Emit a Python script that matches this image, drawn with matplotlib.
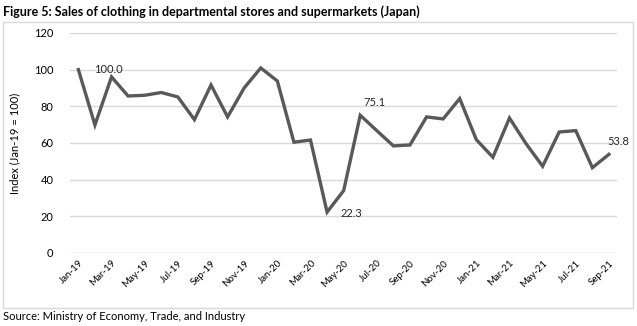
import matplotlib.pyplot as plt
from matplotlib.patches import Rectangle

plt.rcParams['font.family'] = ['Lato', 'DejaVu Sans']

months = ['Jan-19', 'Feb-19', 'Mar-19', 'Apr-19', 'May-19', 'Jun-19', 'Jul-19', 'Aug-19',
          'Sep-19', 'Oct-19', 'Nov-19', 'Dec-19', 'Jan-20', 'Feb-20', 'Mar-20', 'Apr-20',
          'May-20', 'Jun-20', 'Jul-20', 'Aug-20', 'Sep-20', 'Oct-20', 'Nov-20', 'Dec-20',
          'Jan-21', 'Feb-21', 'Mar-21', 'Apr-21', 'May-21', 'Jun-21', 'Jul-21', 'Aug-21',
          'Sep-21']
index_values = [100.0, 69.8, 96.0, 85.6, 86.0, 87.5, 85.1, 72.7,
                91.6, 74.2, 90.0, 100.9, 93.8, 60.4, 61.6, 22.3,
                34.0, 75.1, 66.7, 58.4, 58.9, 74.2, 73.1, 84.2,
                61.8, 52.2, 73.6, 59.6, 47.3, 66.0, 66.7, 46.5,
                53.8]

# which points get a data label, and where the label sits
labels = {0: (11, 0, 'left'), 15: (10, -1, 'left'), 17: (2, 9, 'left'), 32: (-1, 9.5, 'left')}

fig = plt.figure(figsize=(6.37, 3.26), dpi=100)
ax = fig.add_axes([0.11, 0.224, 0.859, 0.675])

x = list(range(len(months)))
ax.plot(x, index_values, color='#595959', linewidth=2.4, solid_joinstyle='miter')

for i, (dx, dy, ha) in labels.items():
    ax.annotate(f'{index_values[i]:.1f}', (x[i], index_values[i]), xytext=(dx, dy),
                textcoords='offset points', ha=ha, va='center', fontsize=8, color='#262626')

ax.set_xlim(-0.5, len(months) - 0.5)
ax.set_ylim(0, 120)
ax.set_yticks(range(0, 121, 20))
ax.set_xticks(x[::2])
ax.set_xticklabels(months[::2], rotation=45, ha='right', rotation_mode='anchor', fontsize=7)
ax.tick_params(axis='y', labelsize=8, length=0, pad=12)
ax.tick_params(axis='x', length=0, pad=4)
ax.grid(axis='y', color='#d9d9d9', linewidth=1)
ax.set_axisbelow(True)
for s in ax.spines.values():
    s.set_visible(False)
ax.set_ylabel('Index (Jan-19 = 100)', fontsize=8, labelpad=10)

fig.patches.append(Rectangle((0.005, 0.055), 0.988, 0.878, transform=fig.transFigure,
                             fill=False, edgecolor='#d9d9d9', linewidth=1))
fig.text(0.005, 0.965, 'Figure 5: Sales of clothing in departmental stores and supermarkets (Japan)',
         fontsize=9, fontweight='bold', va='center')
fig.text(0.005, 0.03, 'Source: Ministry of Economy, Trade, and Industry', fontsize=8, va='center')

fig.savefig('out.png', dpi=100)
